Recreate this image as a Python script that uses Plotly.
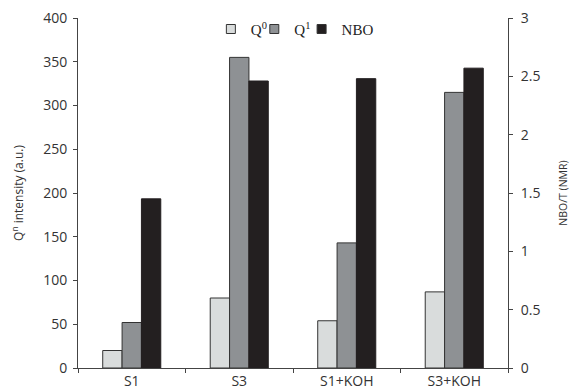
import plotly.graph_objects as go

categories = ["S1", "S3", "S1+KOH", "S3+KOH"]
q0 = [20, 80, 54, 87]
q1 = [52, 355, 143, 315]
nbo = [1.45, 2.46, 2.48, 2.57]

line_col = "#333333"
colors = ["#d9dcdc", "#8e9194", "#231f20"]
names = ["Q<sup>0</sup>", "Q<sup>1</sup>", "NBO"]
legend_ids = ["legend", "legend2", "legend3"]
legend_x = [0.309, 0.41, 0.52]

fig = go.Figure()
fig.add_trace(go.Bar(x=categories, y=q0, name=names[0], width=0.18, offset=-0.27, showlegend=False,
                     marker=dict(color=colors[0], line=dict(color=line_col, width=1))))
fig.add_trace(go.Bar(x=categories, y=q1, name=names[1], width=0.18, offset=-0.09, showlegend=False,
                     marker=dict(color=colors[1], line=dict(color=line_col, width=1))))
fig.add_trace(go.Bar(x=categories, y=nbo, name=names[2], width=0.18, offset=0.09, yaxis="y2", showlegend=False,
                     marker=dict(color=colors[2], line=dict(color=colors[2], width=1))))
# legend entries as small squares
for nm, c, lg in zip(names, colors, legend_ids):
    fig.add_trace(go.Scatter(x=[None], y=[None], mode="markers", name=nm, legend=lg,
                             marker=dict(symbol="square", size=9, color=c,
                                         line=dict(color="#333333", width=1))))

font_sans = "Open Sans, Liberation Sans, sans-serif"
leg_font = dict(family="Liberation Serif, Times New Roman, serif", size=15, color="#222222")
legends = {}
for lg, lx in zip(legend_ids, legend_x):
    legends[lg] = dict(orientation="h", x=lx, y=1.015, xanchor="left", yanchor="top",
                       font=leg_font, itemwidth=30, bgcolor="rgba(0,0,0,0)")

fig.update_layout(
    width=571, height=392,
    margin=dict(l=78, r=63, t=18, b=24, autoexpand=False),
    plot_bgcolor="white", paper_bgcolor="white",
    barmode="overlay",
    font=dict(family=font_sans, size=12, color="#333333"),
    showlegend=True,
    **legends,
    xaxis=dict(showline=True, linecolor="#444444", linewidth=1, ticks="outside", ticklen=4,
               tickcolor="#444444", tickson="boundaries", showgrid=False, automargin=False,
               range=[-0.5, 3.5],
               tickfont=dict(family=font_sans, size=14, color="#333333")),
    yaxis=dict(range=[0, 400], dtick=50, showline=True, linecolor="#444444", linewidth=1,
               ticks="outside", ticklen=4, tickcolor="#444444", showgrid=False, zeroline=False,
               automargin=False, ticklabelstandoff=3,
               title=dict(text="Q<sup>n</sup> intensity (a.u.)", font=dict(size=12), standoff=16),
               tickfont=dict(size=14)),
    yaxis2=dict(range=[0, 3], dtick=0.5, overlaying="y", side="right", showline=True,
                linecolor="#444444", linewidth=1, ticks="outside", ticklen=4, tickcolor="#444444",
                showgrid=False, zeroline=False, automargin=False, ticklabelstandoff=5,
                title=dict(text="NBO/T (NMR)", font=dict(size=10.5), standoff=20),
                tickfont=dict(size=14)),
)

fig.write_html("out.html", config={"displayModeBar": False},
               post_script="document.body.style.margin='0';")
